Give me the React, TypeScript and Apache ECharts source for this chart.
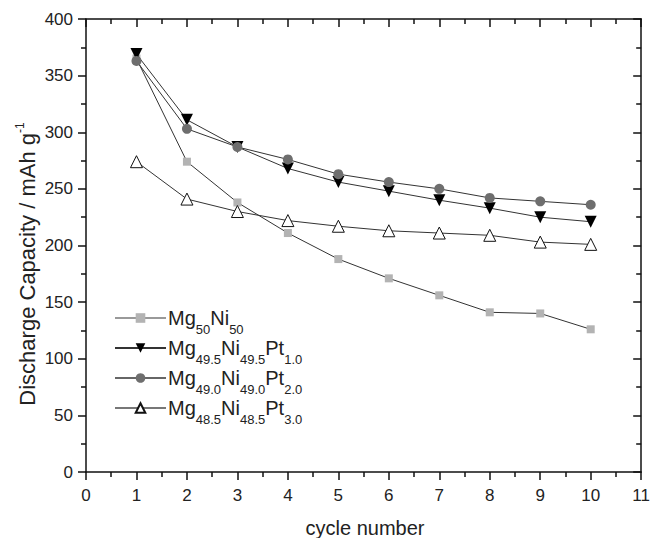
import React, { useEffect, useRef } from "react";
import * as echarts from "echarts";

const cycles = [1, 2, 3, 4, 5, 6, 7, 8, 9, 10];
const mg50 = [365, 274, 238, 211, 188, 171, 156, 141, 140, 126];
const pt10 = [369, 311, 287, 268, 256, 248, 240, 233, 225, 221];
const pt20 = [363, 303, 287, 276, 263, 256, 250, 242, 239, 236];
const pt30 = [274, 241, 230, 222, 217, 213, 211, 209, 203, 201];

const seriesNames = ["Mg50Ni50", "Mg49.5Ni49.5Pt1.0", "Mg49.0Ni49.0Pt2.0", "Mg48.5Ni48.5Pt3.0"];
const legendRich: Record<string, string> = {
  "Mg50Ni50": "{n|Mg}{s|50}{n|Ni}{s|50}",
  "Mg49.5Ni49.5Pt1.0": "{n|Mg}{s|49.5}{n|Ni}{s|49.5}{n|Pt}{s|1.0}",
  "Mg49.0Ni49.0Pt2.0": "{n|Mg}{s|49.0}{n|Ni}{s|49.0}{n|Pt}{s|2.0}",
  "Mg48.5Ni48.5Pt3.0": "{n|Mg}{s|48.5}{n|Ni}{s|48.5}{n|Pt}{s|3.0}",
};

const FONT = "'Liberation Sans', Arial, sans-serif";

function pairs(vals: number[]) {
  return cycles.map((c, i) => [c, vals[i]]);
}

export default function App() {
  const ref = useRef<HTMLDivElement>(null);
  useEffect(() => {
    if (!ref.current) return;
    const chart = echarts.init(ref.current, undefined, { renderer: "svg" });
    const axisLine = { show: true, onZero: false, lineStyle: { color: "#111", width: 1.5 } };
    const xBase = { type: "value", min: 0, max: 11, interval: 1, splitLine: { show: false }, axisLine };
    const yBase = { type: "value", min: 0, max: 400, interval: 50, splitLine: { show: false }, axisLine };
    const tickStyle = { color: "#111", width: 1.5 };
    const lineColor = "#333";
    chart.setOption({
      animation: false,
      grid: { left: 86, right: 10, top: 19, bottom: 66 },
      xAxis: [
        {
          ...xBase,
          position: "bottom",
          axisTick: { show: true, inside: false, length: 8, lineStyle: tickStyle },
          minorTick: { show: true, splitNumber: 2, length: 5, lineStyle: tickStyle },
          axisLabel: { show: true, margin: 15, fontSize: 17, color: "#222", fontFamily: FONT },
        },
        {
          ...xBase,
          position: "top",
          axisTick: { show: true, inside: true, length: 8, lineStyle: tickStyle },
          minorTick: { show: true, splitNumber: 2, length: 5, lineStyle: tickStyle },
          axisLabel: { show: false },
        },
      ],
      yAxis: [
        {
          ...yBase,
          position: "left",
          axisTick: { show: true, inside: false, length: 8, lineStyle: tickStyle },
          minorTick: { show: true, splitNumber: 2, length: 5, lineStyle: tickStyle },
          axisLabel: { show: true, margin: 13, fontSize: 17, color: "#222", fontFamily: FONT },
        },
        {
          ...yBase,
          position: "right",
          axisTick: { show: true, inside: true, length: 8, lineStyle: tickStyle },
          minorTick: { show: true, splitNumber: 2, length: 5, lineStyle: tickStyle },
          axisLabel: { show: false },
        },
      ],
      legend: {
        orient: "vertical",
        left: 114,
        top: 308,
        padding: 0,
        itemWidth: 51,
        itemHeight: 12,
        itemGap: 2,
        data: [
          { name: seriesNames[0], lineStyle: { color: "#999" } },
          { name: seriesNames[1] },
          { name: seriesNames[2], lineStyle: { color: "#666" } },
          { name: seriesNames[3], lineStyle: { color: "#777" } },
        ],
        formatter: (name: string) => legendRich[name] || name,
        textStyle: {
          fontFamily: FONT,
          color: "#222",
          padding: [0, 0, 0, -3],
          rich: {
            n: { fontSize: 20, lineHeight: 36, fontFamily: FONT, color: "#222" },
            s: { fontSize: 13, lineHeight: 13, verticalAlign: "bottom", fontFamily: FONT, color: "#222" },
          },
        },
      },
      graphic: [
        {
          type: "text",
          x: 27,
          y: 264,
          rotation: Math.PI / 2,
          style: {
            text: "{a|Discharge Capacity / mAh g}{b|-1}",
            align: "center",
            verticalAlign: "middle",
            rich: {
              a: { fontSize: 22, lineHeight: 26, fontFamily: FONT, fill: "#222" },
              b: { fontSize: 12, lineHeight: 14, verticalAlign: "top", fontFamily: FONT, fill: "#222" },
            },
          },
        },
        {
          type: "text",
          x: 365,
          y: 528,
          style: {
            text: "cycle number",
            align: "center",
            verticalAlign: "middle",
            fontSize: 20,
            fontFamily: FONT,
            fill: "#222",
          },
        },
      ],
      series: [
        {
          name: seriesNames[0],
          type: "line",
          data: pairs(mg50),
          symbol: "rect",
          symbolSize: 8,
          itemStyle: { color: "#b3b3b3" },
          lineStyle: { color: lineColor, width: 1 },
          z: 2,
        },
        {
          name: seriesNames[1],
          type: "line",
          data: pairs(pt10),
          symbol: "triangle",
          symbolRotate: 180,
          symbolSize: 12,
          itemStyle: { color: "#000" },
          lineStyle: { color: lineColor, width: 1 },
          z: 3,
        },
        {
          name: seriesNames[2],
          type: "line",
          data: pairs(pt20),
          symbol: "circle",
          symbolSize: 10,
          itemStyle: { color: "#6e6e6e" },
          lineStyle: { color: lineColor, width: 1 },
          z: 3,
        },
        {
          name: seriesNames[3],
          type: "line",
          data: pairs(pt30),
          symbol: "triangle",
          symbolSize: 12,
          itemStyle: { color: "#fff", borderColor: "#111", borderWidth: 1 },
          lineStyle: { color: lineColor, width: 1 },
          z: 3,
        },
      ],
    });
    return () => chart.dispose();
  }, []);
  return <div ref={ref} style={{ width: 653, height: 538, position: "absolute", left: 0, top: 0 }} />;
}
